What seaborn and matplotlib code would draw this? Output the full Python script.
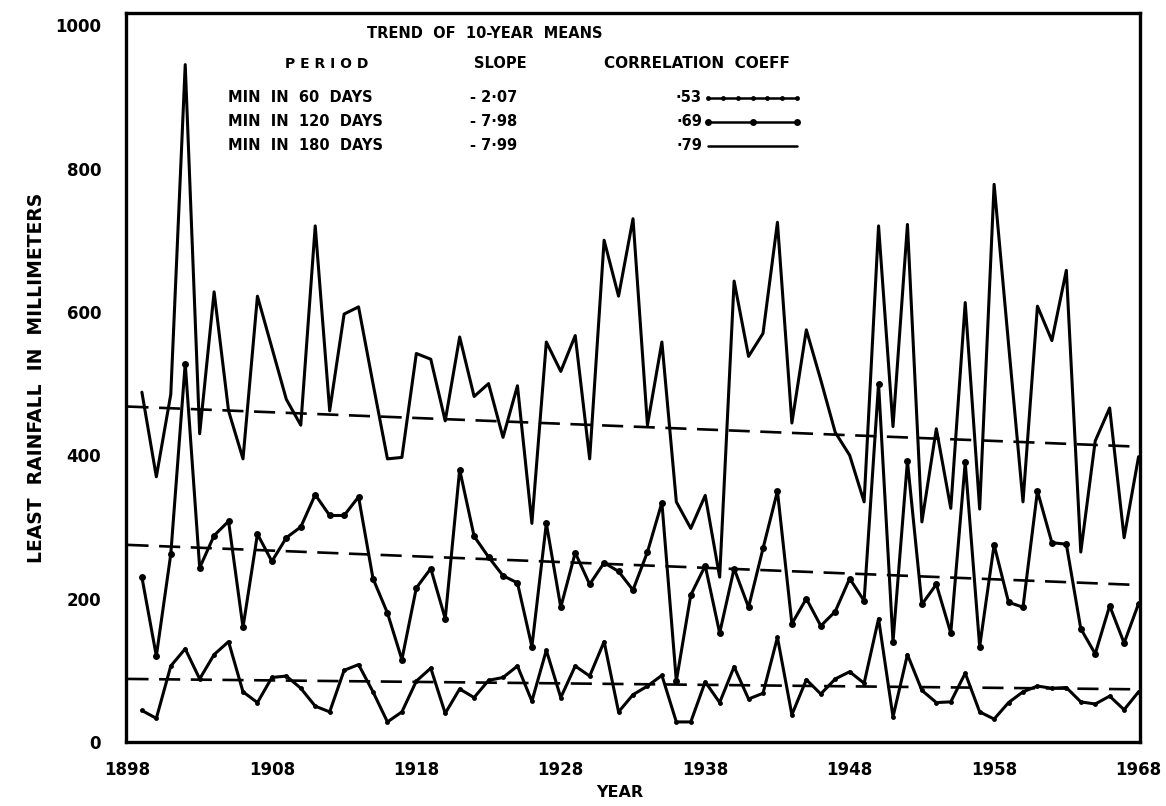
import numpy as np
import pandas as pd
import matplotlib
matplotlib.use("Agg")
import matplotlib.pyplot as plt
import seaborn as sns
from matplotlib.lines import Line2D

# ---------------- data ----------------
years = list(range(1899, 1969))

min_180 = [488, 370, 485, 945, 430, 628, 462, 395, 622, 550,
           478, 442, 720, 462, 597, 607, 500, 395, 397, 542,
           534, 448, 565, 482, 500, 425, 497, 305, 558, 517,
           567, 395, 700, 622, 730, 442, 558, 335, 298, 344,
           230, 643, 538, 570, 725, 445, 575, 505, 432, 400,
           335, 720, 440, 722, 307, 437, 326, 613, 325, 778,
           555, 335, 608, 560, 658, 265, 420, 466, 285, 398]

min_120 = [230, 120, 262, 528, 243, 288, 308, 160, 290, 252,
           285, 300, 345, 316, 316, 342, 228, 180, 115, 215,
           242, 172, 380, 287, 258, 232, 222, 133, 305, 188,
           264, 220, 250, 238, 212, 265, 334, 85, 205, 246,
           152, 242, 188, 270, 350, 165, 200, 162, 182, 228,
           197, 500, 140, 392, 192, 220, 152, 390, 133, 275,
           195, 188, 350, 278, 276, 158, 123, 190, 138, 193]

min_60 = [44, 33, 106, 130, 88, 122, 140, 70, 55, 90,
          92, 75, 50, 42, 100, 108, 70, 28, 42, 85,
          103, 40, 74, 62, 86, 90, 106, 57, 128, 62,
          106, 92, 140, 42, 66, 78, 93, 28, 28, 84,
          55, 105, 60, 68, 146, 38, 87, 67, 88, 98,
          82, 172, 35, 122, 72, 55, 56, 96, 42, 32,
          55, 70, 78, 75, 76, 56, 53, 64, 45, 70]

period_labels = ["MIN  IN  60  DAYS", "MIN  IN  120  DAYS", "MIN  IN  180  DAYS"]
slope_labels = ["- 2·07", "- 7·98", "- 7·99"]
corr_labels = ["·53", "·69", "·79"]
trend_years = [1898, 1968]
trend_60 = [88, 73.5]
trend_120 = [275, 219]
trend_180 = [468, 412]

x_ticks = [1898, 1908, 1918, 1928, 1938, 1948, 1958, 1968]
y_ticks = [0, 200, 400, 600, 800, 1000]

# ---------------- style ----------------
sns.set_style("white")
plt.rcParams['font.family'] = ['DejaVu Sans']
plt.rcParams['font.weight'] = 'bold'
plt.rcParams['text.color'] = 'black'
plt.rcParams['axes.labelcolor'] = 'black'
plt.rcParams['xtick.color'] = 'black'
plt.rcParams['ytick.color'] = 'black'

W, H = 1166, 806
fig = plt.figure(figsize=(W / 100, H / 100), dpi=100)
ax = fig.add_axes([126 / W, 1 - 742 / H, (1140 - 126) / W, (742 - 13) / H])

lw = 2.2
sns.lineplot(x=years, y=min_180, ax=ax, color="black", linewidth=lw)
sns.lineplot(x=years, y=min_120, ax=ax, color="black", linewidth=lw,
             marker="o", markersize=5, markeredgewidth=0)
sns.lineplot(x=years, y=min_60, ax=ax, color="black", linewidth=lw,
             marker="o", markersize=3.5, markeredgewidth=0)

for tr in (trend_60, trend_120, trend_180):
    sns.lineplot(x=trend_years, y=tr, ax=ax, color="black", linewidth=1.9,
                 linestyle=(0, (8, 4)))

ax.set_xlim(1897.9, 1968.1)
ax.set_ylim(0, 1017)
ax.set_xticks(x_ticks)
ax.set_yticks(y_ticks)
ax.set_xticklabels([str(v) for v in x_ticks])
ax.set_yticklabels([str(v) for v in y_ticks])
ax.tick_params(axis="both", direction="in", length=9, width=2.2,
               labelsize=12, colors="black")
ax.tick_params(axis="y", pad=18)
ax.tick_params(axis="x", pad=14)
for lab in ax.get_xticklabels() + ax.get_yticklabels():
    lab.set_fontweight("bold")
for sp in ax.spines.values():
    sp.set_visible(True)
    sp.set_linewidth(2.4)
    sp.set_color("black")

ax.set_xlabel("YEAR", fontsize=11.5, fontweight="bold", labelpad=4)
ax.set_ylabel("LEAST  RAINFALL  IN  MILLIMETERS", fontsize=13.5,
              fontweight="bold", labelpad=4)
ax.yaxis.set_label_coords((46 - 126) / (1140 - 126), 0.5)
ax.xaxis.set_label_coords(0.487, (742 - 785) / (742 - 13))

# ---------------- trend table ----------------
def fx(px):
    return px / W

def fy(py):
    return 1 - py / H

fs = 10.5
fig.text(fx(485), fy(34), "TREND  OF  10-YEAR  MEANS", ha="center", va="center",
         fontsize=fs, fontweight="bold")
fig.text(fx(327), fy(64), "P E R I O D", ha="center", va="center",
         fontsize=10, fontweight="bold")
fig.text(fx(500), fy(64), "SLOPE", ha="center", va="center",
         fontsize=fs, fontweight="bold")
fig.text(fx(697), fy(64), "CORRELATION  COEFF", ha="center", va="center",
         fontsize=fs + 0.5, fontweight="bold")

rows_y = [98, 122, 146]
for i, yy in enumerate(rows_y):
    fig.text(fx(228), fy(yy), period_labels[i], ha="left", va="center",
             fontsize=fs, fontweight="bold")
    fig.text(fx(470), fy(yy), slope_labels[i], ha="left", va="center",
             fontsize=fs, fontweight="bold")
    fig.text(fx(702), fy(yy), corr_labels[i], ha="right", va="center",
             fontsize=fs, fontweight="bold")

# legend samples
n_marks = [7, 3, 0]
msz = [3.5, 5, 0]
for i, yy in enumerate(rows_y):
    xs = np.linspace(fx(708), fx(797), 20)
    ys = np.full_like(xs, fy(yy))
    fig.add_artist(Line2D(xs, ys, transform=fig.transFigure, color="black",
                          linewidth=1.8))
    if n_marks[i]:
        mx = np.linspace(fx(708), fx(797), n_marks[i])
        my = np.full_like(mx, fy(yy))
        fig.add_artist(Line2D(mx, my, transform=fig.transFigure, color="black",
                              linestyle="none", marker="o", markersize=msz[i],
                              markeredgewidth=0))

fig.savefig("out.png", dpi=100, facecolor="white")
